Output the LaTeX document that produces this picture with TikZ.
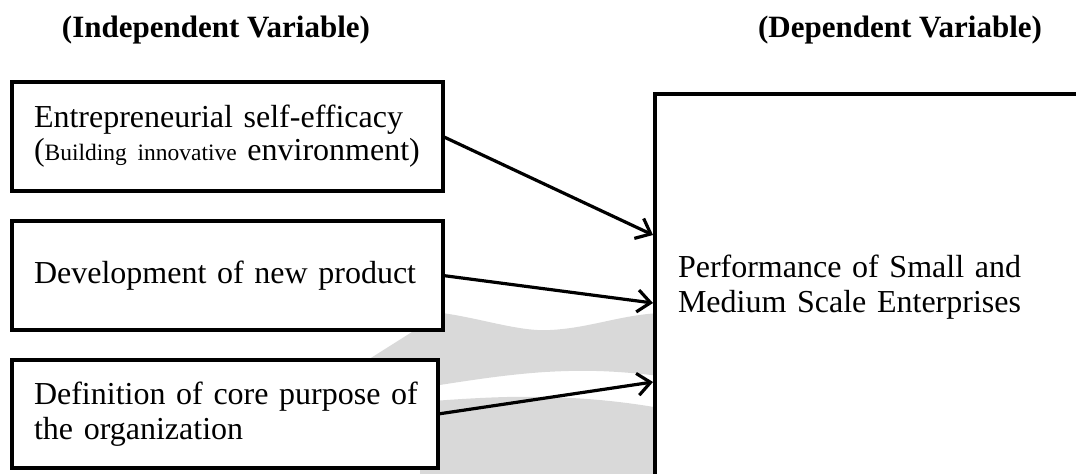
\documentclass[tikz,border=0pt]{standalone}
\usepackage{fontspec}
\setmainfont{Liberation Serif}
\usetikzlibrary{arrows.meta}

\begin{document}
\begin{tikzpicture}[x=0.5pt,y=-0.5pt,
    varbox/.style={draw,fill=white,line width=1.7pt,outer sep=0pt,align=left,
      inner xsep=11pt,anchor=west,font=\fontsize{16}{17.5}\selectfont},
    heading/.style={anchor=base,font=\fontsize{15.5}{17}\selectfont\bfseries},
    link/.style={line width=1.6pt,-{Straight Barb[length=6.5pt,width=11pt,line width=1.6pt]}}]
  \useasboundingbox (0,0) rectangle (1076,473);
  \clip (0,0) rectangle (1076,473);

  % faint watermark of the scan
  \fill[black!15] (355,368) -- (442,313) .. controls (480,318) and (520,332) .. (550,330)
    .. controls (590,328) and (620,315) .. (660,313) -- (660,376)
    .. controls (610,370) and (580,370) .. (545,372)
    .. controls (500,375) and (460,382) .. (420,388) -- (355,395) -- cycle;
  \fill[black!15] (420,402) .. controls (470,398) and (510,396) .. (545,397)
    .. controls (590,398) and (625,402) .. (660,408) -- (660,480) -- (420,480) -- cycle;

  \node[heading] (indep) at (216,37) {(Independent Variable)};
  \node[heading] (dep) at (900,37) {(Dependent Variable)};

  \node[varbox,minimum width=215.5pt,minimum height=54.5pt,text width=193.5pt] (efficacy) at (12,136.5)
    {Entrepreneurial self-efficacy\\[-1pt]({\fontsize{11.75}{14}\selectfont Building innovative} environment)};
  \node[varbox,minimum width=215.5pt,minimum height=54.5pt,text width=193.5pt] (product) at (12,275.5)
    {Development of new product};
  \node[varbox,minimum width=213pt,minimum height=54pt,text width=191pt] (purpose) at (12,414)
    {\mbox{Definition of core purpose of}\\the organization};

  \node[varbox,anchor=north west,inner xsep=11.5pt,minimum width=222.5pt,minimum height=193pt,
    text width=199.5pt] (perf) at (655,94)
    {Performance of Small and\\Medium Scale Enterprises};

  \coordinate (in1) at (653,235);
  \coordinate (in2) at (653,303);
  \coordinate (in3) at (653,382);

  \draw[link] (efficacy.east) -- (in1);
  \draw[link] (product.east) -- (in2);
  \draw[link] (purpose.east) -- (in3);

\end{tikzpicture}
\end{document}
